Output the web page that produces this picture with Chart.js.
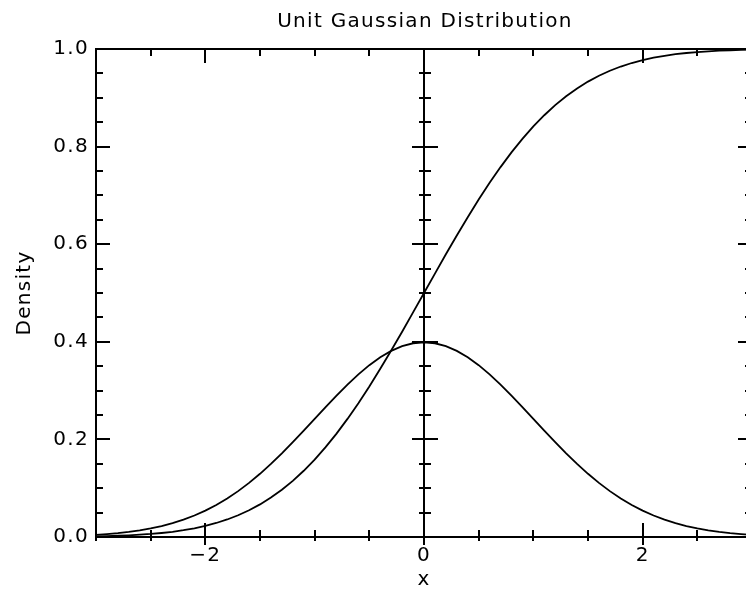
<!DOCTYPE html>
<html>
<head>
<meta charset="utf-8">
<title>Unit Gaussian Distribution</title>
<script src="https://cdn.jsdelivr.net/npm/chart.js@4/dist/chart.umd.min.js"></script>
<style>
  html, body { margin: 0; padding: 0; background: #fff; overflow: hidden; }
  canvas { display: block; }
</style>
</head>
<body>
<canvas id="c" width="760" height="594"></canvas>
<script>
// Sample positions along x
const xValues = [
  -3.0, -2.9, -2.8, -2.7, -2.6, -2.5, -2.4, -2.3, -2.2, -2.1,
  -2.0, -1.9, -1.8, -1.7, -1.6, -1.5, -1.4, -1.3, -1.2, -1.1,
  -1.0, -0.9, -0.8, -0.7, -0.6, -0.5, -0.4, -0.3, -0.2, -0.1,
   0.0,  0.1,  0.2,  0.3,  0.4,  0.5,  0.6,  0.7,  0.8,  0.9,
   1.0,  1.1,  1.2,  1.3,  1.4,  1.5,  1.6,  1.7,  1.8,  1.9,
   2.0,  2.1,  2.2,  2.3,  2.4,  2.5,  2.6,  2.7,  2.8,  2.9,
   3.0
];

// Bell-shaped density curve
const densityValues = [
  0.0044, 0.0060, 0.0079, 0.0104, 0.0136, 0.0175, 0.0224, 0.0283, 0.0355, 0.0440,
  0.0540, 0.0656, 0.0790, 0.0940, 0.1109, 0.1295, 0.1497, 0.1714, 0.1942, 0.2179,
  0.2420, 0.2661, 0.2897, 0.3123, 0.3332, 0.3521, 0.3683, 0.3814, 0.3910, 0.3970,
  0.3989,
  0.3970, 0.3910, 0.3814, 0.3683, 0.3521, 0.3332, 0.3123, 0.2897, 0.2661, 0.2420,
  0.2179, 0.1942, 0.1714, 0.1497, 0.1295, 0.1109, 0.0940, 0.0790, 0.0656, 0.0540,
  0.0440, 0.0355, 0.0283, 0.0224, 0.0175, 0.0136, 0.0104, 0.0079, 0.0060, 0.0044
];

// S-shaped cumulative curve
const cumulativeValues = [
  0.0013, 0.0019, 0.0026, 0.0035, 0.0047, 0.0062, 0.0082, 0.0107, 0.0139, 0.0179,
  0.0228, 0.0287, 0.0359, 0.0446, 0.0548, 0.0668, 0.0808, 0.0968, 0.1151, 0.1357,
  0.1587, 0.1841, 0.2119, 0.2420, 0.2743, 0.3085, 0.3446, 0.3821, 0.4207, 0.4602,
  0.5000,
  0.5398, 0.5793, 0.6179, 0.6554, 0.6915, 0.7257, 0.7580, 0.7881, 0.8159, 0.8413,
  0.8643, 0.8849, 0.9032, 0.9192, 0.9332, 0.9452, 0.9554, 0.9641, 0.9713, 0.9772,
  0.9821, 0.9861, 0.9893, 0.9918, 0.9938, 0.9953, 0.9965, 0.9974, 0.9981, 0.9987
];

// Axis ranges and tick labelling
const xRange = [-3, 3];
const yRange = [0, 1];
const xLabelledTicks = [-2, 0, 2];
const yLabelledTicks = [0.0, 0.2, 0.4, 0.6, 0.8, 1.0];
const xMinorStep = 0.5;
const yMinorStep = 0.05;

const chartTitle = 'Unit Gaussian Distribution';

const FONT = { family: "'DejaVu Sans', sans-serif", size: 20, weight: 'normal' };
const SPACING = '1.3px';

const toPoints = ys => xValues.map((x, i) => ({ x, y: ys[i] }));

// Boxed frame, centre axis, inward tick marks and a title centred over the plot
const framePlugin = {
  id: 'frame',
  beforeUpdate(chart) { chart.ctx.letterSpacing = SPACING; },
  beforeDraw(chart) { chart.ctx.letterSpacing = SPACING; },
  afterDraw(chart) {
    const { ctx, chartArea: area, scales: { x, y } } = chart;
    const px = v => Math.round(x.getPixelForValue(v));
    const py = v => Math.round(y.getPixelForValue(v));
    const L = px(xRange[0]), R = px(xRange[1]);
    const T = py(yRange[1]), B = py(yRange[0]);
    const X0 = px(0);
    const near = (a, b) => Math.abs(a - b) < 1e-6;
    const isMajorX = v => xLabelledTicks.some(t => near(t, v));
    const isMajorY = v => yLabelledTicks.some(t => near(t, v));

    ctx.save();
    ctx.strokeStyle = '#000';
    ctx.lineWidth = 2;
    ctx.lineCap = 'butt';
    ctx.beginPath();
    const seg = (x1, y1, x2, y2) => { ctx.moveTo(x1, y1); ctx.lineTo(x2, y2); };

    // frame and zero axis
    ctx.rect(L, T, R - L, B - T);
    seg(X0, T, X0, B);

    // x ticks on bottom and top edges
    const nx = Math.round((xRange[1] - xRange[0]) / xMinorStep);
    for (let i = 0; i <= nx; i++) {
      const v = xRange[0] + i * xMinorStep;
      const p = px(v);
      const major = isMajorX(v);
      seg(p, B + (major ? 8 : 4), p, B - (major ? 14 : 7));
      seg(p, T, p, T + (major ? 14 : 7));
    }

    // y ticks on left, right and zero axis
    const ny = Math.round((yRange[1] - yRange[0]) / yMinorStep);
    for (let i = 0; i <= ny; i++) {
      const v = yRange[0] + i * yMinorStep;
      const p = py(v);
      const major = isMajorY(v);
      seg(L, p, L + (major ? 14 : 7), p);
      seg(R, p, R - (major ? 14 : 7), p);
      seg(X0 - (major ? 12 : 5), p, X0 + (major ? 14 : 7), p);
    }
    ctx.stroke();

    // title
    ctx.letterSpacing = SPACING;
    ctx.fillStyle = '#000';
    ctx.font = `${FONT.weight} ${FONT.size}px ${FONT.family}`;
    ctx.textAlign = 'center';
    ctx.textBaseline = 'alphabetic';
    ctx.fillText(chartTitle, (area.left + area.right) / 2 + 1, 27);
    ctx.restore();
  }
};

new Chart(document.getElementById('c'), {
  type: 'scatter',
  data: {
    datasets: [
      {
        label: 'density',
        data: toPoints(densityValues),
        showLine: true,
        borderColor: '#000',
        borderWidth: 1.8,
        pointRadius: 0,
        tension: 0
      },
      {
        label: 'cumulative',
        data: toPoints(cumulativeValues),
        showLine: true,
        borderColor: '#000',
        borderWidth: 1.8,
        pointRadius: 0,
        tension: 0
      }
    ]
  },
  options: {
    responsive: false,
    animation: false,
    devicePixelRatio: 1,
    layout: { padding: { top: 49, left: 0, right: 8, bottom: 0 } },
    plugins: {
      legend: { display: false },
      tooltip: { enabled: false },
      title: { display: false }
    },
    scales: {
      x: {
        type: 'linear',
        min: xRange[0],
        max: xRange[1],
        grid: { display: false, drawTicks: false },
        border: { display: false },
        afterFit(scale) { scale.height = 57; },
        ticks: {
          stepSize: xMinorStep,
          autoSkip: false,
          maxRotation: 0,
          padding: 7,
          color: '#000',
          font: FONT,
          callback(v) {
            const hit = xLabelledTicks.find(t => Math.abs(t - v) < 1e-6);
            if (hit === undefined) return '';
            return hit < 0 ? '\u2212' + Math.abs(hit) : String(hit);
          }
        },
        title: {
          display: true,
          text: 'x',
          color: '#000',
          font: FONT,
          padding: { top: 0, bottom: 2 }
        }
      },
      y: {
        type: 'linear',
        min: yRange[0],
        max: yRange[1],
        grid: { display: false, drawTicks: false },
        border: { display: false },
        afterFit(scale) { scale.width = 96; },
        afterBuildTicks(scale) {
          scale.ticks = yLabelledTicks.map(value => ({ value }));
        },
        ticks: {
          padding: 7,
          color: '#000',
          font: FONT,
          callback: v => Number(v).toFixed(1)
        },
        title: {
          display: true,
          text: 'Density',
          color: '#000',
          font: FONT,
          padding: { top: 13, bottom: 0 }
        }
      }
    }
  },
  plugins: [framePlugin]
});
</script>
</body>
</html>
